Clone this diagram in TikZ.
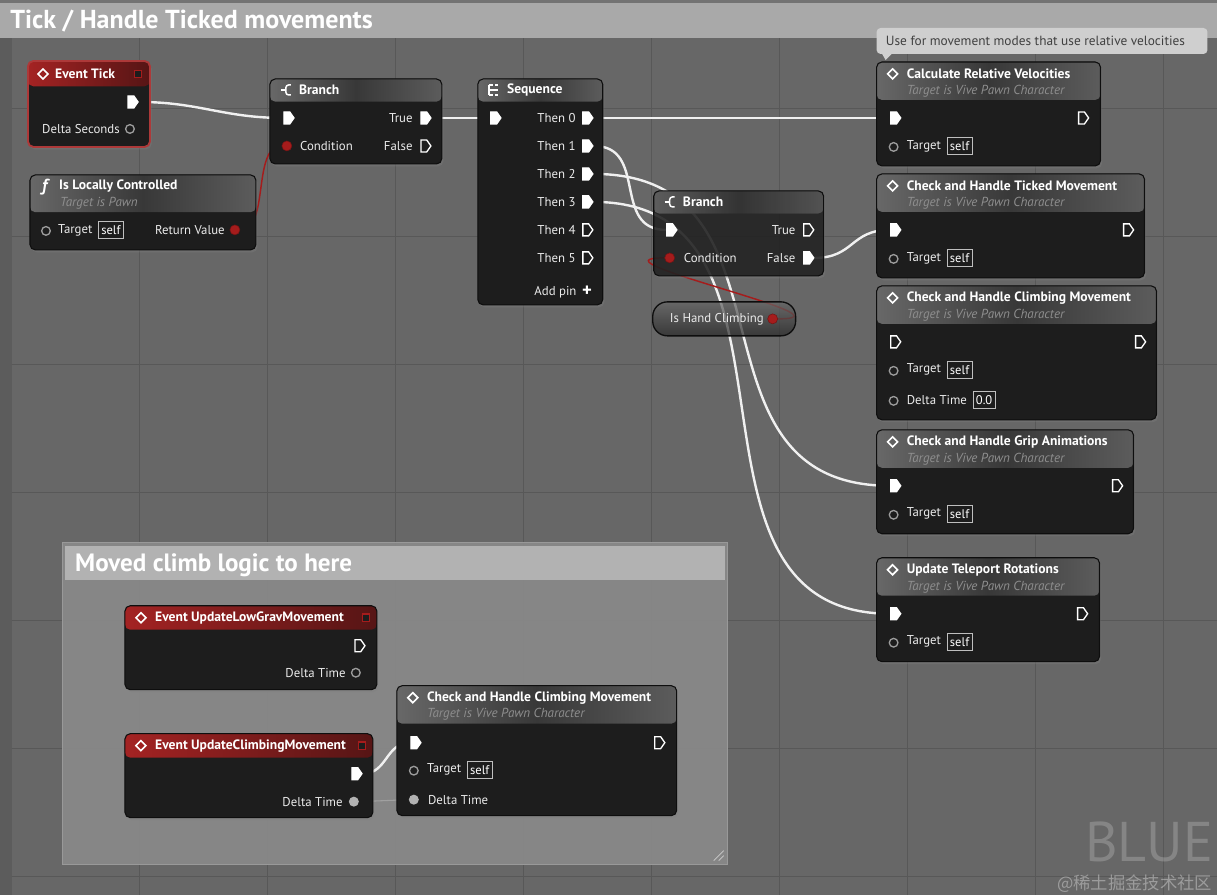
\documentclass[tikz,border=0pt]{standalone}
\usepackage{fontspec}
\setmainfont{PT Sans}
\newfontfamily\cjk{Noto Sans CJK SC}
\usetikzlibrary{shapes.geometric,shapes.symbols,positioning,shadows}
\definecolor{canvas}{HTML}{676767}
\definecolor{strip}{HTML}{5C5C5C}
\definecolor{gridline}{HTML}{585858}
\definecolor{chead}{HTML}{A9A9A9}
\definecolor{cbody}{HTML}{8A8A8A}
\definecolor{cbar}{HTML}{B2B2B2}
\definecolor{nodebg}{HTML}{1D1D1D}
\definecolor{nodeedge}{HTML}{0E0E0E}
\definecolor{hgrayA}{HTML}{686868}
\definecolor{hgrayB}{HTML}{383838}
\definecolor{hgrayC}{HTML}{5C5C5C}
\definecolor{hredA}{HTML}{A42323}
\definecolor{hredB}{HTML}{561515}
\definecolor{pinred}{HTML}{A51C1C}
\definecolor{pingray}{HTML}{9C9C9C}
\definecolor{subtxt}{HTML}{8E8E8E}
\definecolor{bubble}{HTML}{CFCFCF}
\definecolor{wire}{HTML}{F0F0F0}
\pgfdeclarelayer{back}
\pgfdeclarelayer{wires}
\pgfsetlayers{back,wires,main}
\begin{document}
\begin{tikzpicture}[x=0.75pt,y=-0.75pt,
  bpbody/.style={fill=nodebg, draw=nodeedge, line width=.8pt, rounded corners=4pt, drop shadow={opacity=.35,shadow xshift=1.2pt,shadow yshift=-1.8pt}},
  head/.style 2 args={path picture={\fill[#1] (path picture bounding box.north west) rectangle ([yshift=-#2]path picture bounding box.north east);}},
  grayhead/.style={left color=hgrayA, right color=hgrayC, middle color=hgrayB},
  redhead/.style={left color=hredA, right color=hredB},
  pill/.style={top color=hgrayA, bottom color=hgrayB!70!black, draw=nodeedge, line width=1pt, rounded corners=11pt},
  ttl/.style={font=\bfseries\fontsize{10.2}{12}\selectfont, text=white, inner sep=0pt, anchor=west},
  sub/.style={font=\itshape\fontsize{9.8}{11}\selectfont, text=subtxt, inner sep=0pt, anchor=west},
  lbl/.style={font=\fontsize{9.6}{11}\selectfont, text=white!92!black, inner sep=0pt, anchor=west},
  valbox/.style={font=\fontsize{9.4}{11}\selectfont, text=white, draw=white!75!black, line width=.6pt, inner sep=2.2pt, minimum height=12.5pt},
  xpin/.style={shape=signal, signal to=east, signal pointer angle=110, draw=white, line width=1pt, minimum width=7.5pt, minimum height=9pt, inner sep=0pt},
  dpin/.style={circle, draw=pingray, line width=1pt, minimum size=6.5pt, inner sep=0pt},
  rpin/.style={circle, fill=pinred, draw=pinred!70!black, minimum size=7.5pt, inner sep=0pt},
  gpin/.style={circle, fill=white!70!black, minimum size=7.5pt, inner sep=0pt},
  evpin/.style={rectangle, fill=nodebg, draw=pinred, line width=1pt, minimum size=5.5pt, inner sep=0pt},
  icon/.style={diamond, draw=white, line width=1.2pt, minimum size=8pt, inner sep=0pt},
  icn/.style={draw=white, line width=1.1pt},
  wireline/.style={draw=wire, line width=1.8pt},
  redwire/.style={draw=pinred, line width=1.1pt}]

\begin{pgfonlayer}{back}
\fill[canvas] (0,0) rectangle (1218,895);
\fill[strip] (0,38) rectangle (12,895);
\foreach \x in {140,268,...,1164} \draw[gridline, line width=.8pt] (\x,38) -- (\x,895);
\foreach \y in {109,237,...,878} \draw[gridline, line width=.8pt] (12,\y) -- (1218,\y);
\fill[chead] (0,3) rectangle (1218,38);
\fill[black!55] (0,0) rectangle (1218,3);
\fill[cbody, fill opacity=.9, draw=white!60!black] (62,543) rectangle (728,865);
\fill[cbar] (65,546) rectangle (725,580);
\draw[white!80!black, line width=.6pt] (714,861) -- (724,851) (719,861) -- (724,856);
\end{pgfonlayer}

% comment titles
\node[font=\bfseries\fontsize{19.5}{22}\selectfont, text=white, anchor=west, inner sep=0pt] (cm-tick) at (10,21) {Tick / Handle Ticked movements};
\node[font=\bfseries\fontsize{18.8}{21}\selectfont, text=white, anchor=west, inner sep=0pt] (cm-climb) at (75,565) {Moved climb logic to here};

% event tick
\draw[bpbody, draw=hredA!90!white, line width=1.4pt, head={redhead}{19pt}] (28,61) rectangle (150,147);
\node[icon] (tick-i) at (43,74) {};
\node[ttl] (tick-t) at (55,74) {Event Tick};
\node[evpin] (tick-d) at (138,74) {};
\node[xpin, fill=white] (tick-x) at (131,102) {};
\node[lbl, anchor=east] (tick-dl) at (120,129) {Delta Seconds};
\node[dpin] (tick-ds) at (130,129) {};

% is locally controlled
\draw[bpbody, head={grayhead}{28pt}] (30,175) rectangle (256,250);
\node[ttl, font=\bfseries\itshape\fontsize{13}{13}\selectfont] (ilc-f) at (42,187) {f};
\node[ttl] (ilc-t) at (59,186) {Is Locally Controlled};
\node[sub] (ilc-s) at (60,203) {Target is Pawn};
\node[dpin] (ilc-tp) at (46,231) {};
\node[lbl] (ilc-tg) at (58,230) {Target};
\node[valbox, right=4pt of ilc-tg] (ilc-self) {self};
\node[lbl, anchor=east] (ilc-rl) at (225,230) {Return Value};
\node[rpin] (ilc-rv) at (235,230) {};

% branch 1
\draw[bpbody, head={grayhead}{17pt}] (270,79) rectangle (442,164);
\draw[icn, rounded corners=2pt] (291,85) -- (286,85) -- (286,95) -- (291,95);
\draw[icn] (281,90) -- (286,90);
\node[ttl] (br1-t) at (299,90) {Branch};
\node[xpin, fill=white] (br1-in) at (287,118) {};
\node[lbl, anchor=east] (br1-tl) at (413,118) {True};
\node[xpin, fill=white] (br1-true) at (424,118) {};
\node[rpin] (br1-cond) at (287,146) {};
\node[lbl] (br1-cl) at (300,146) {Condition};
\node[lbl, anchor=east] (br1-fl) at (413,146) {False};
\node[xpin] (br1-false) at (424,146) {};

% sequence
\draw[bpbody, head={grayhead}{17pt}] (478,79) rectangle (603,305);
\draw[icn] (489,85) -- (489,95) (489,85) -- (493,85) (489,90) -- (498,90) (489,95) -- (493,95) (495,85) -- (498,85) (495,95) -- (498,95);
\node[ttl] (seq-t) at (507,90) {Sequence};
\node[xpin, fill=white] (seq-in) at (494,118) {};
\foreach \i/\y/\f in {0/118/white,1/146/white,2/174/white,3/202/white,4/230/none,5/258/none}{
  \node[lbl, anchor=east] (seq-l\i) at (576,\y) {Then \i};
  \node[xpin, fill=\f] (seq-t\i) at (586,\y) {};
}
\node[lbl, anchor=east] (seq-al) at (577,292) {Add pin};
\node[ttl, font=\bfseries\fontsize{14}{14}\selectfont] (seq-add) at (582,291) {+};

% branch 2
\draw[bpbody, fill opacity=.85, head={grayhead}{17pt}] (654,191) rectangle (824,276);
\draw[icn, rounded corners=2pt] (675,197) -- (670,197) -- (670,207) -- (675,207);
\draw[icn] (665,202) -- (670,202);
\node[ttl] (br2-t) at (683,202) {Branch};
\node[xpin, fill=white] (br2-in) at (670,230) {};
\node[lbl, anchor=east] (br2-tl) at (796,230) {True};
\node[xpin] (br2-true) at (807,230) {};
\node[rpin] (br2-cond) at (670,258) {};
\node[lbl] (br2-cl) at (684,258) {Condition};
\node[lbl, anchor=east] (br2-fl) at (796,258) {False};
\node[xpin, fill=white] (br2-false) at (807,258) {};

% is hand climbing
\draw[pill, fill opacity=.72] (653,302) rectangle (796,336);
\node[lbl] (ihc-t) at (670,319) {Is Hand Climbing};
\node[rpin] (ihc-rv) at (773,319) {};

% comment bubble
\fill[bubble, rounded corners=3pt] (877,28) rectangle (1208,54);
\fill[bubble] (882,53) -- (893,53) -- (886,60) -- cycle;
\node[lbl, text=black!75, font=\fontsize{10}{12}\selectfont] (bub-t) at (886,41) {Use for movement modes that use relative velocities};

% calculate relative velocities
\draw[bpbody, head={grayhead}{28.5pt}] (877,62) rectangle (1101,166);
\node[icon] (crv-i) at (893,74) {};
\node[ttl] (crv-t) at (907,74) {Calculate Relative Velocities};
\node[sub] (crv-s) at (907,91) {Target is Vive Pawn Character};
\node[xpin, fill=white] (crv-in) at (894,118) {};
\node[xpin] (crv-out) at (1082,118) {};
\node[dpin] (crv-tp) at (894,147) {};
\node[lbl] (crv-tg) at (907,146) {Target};
\node[valbox, right=4pt of crv-tg] (crv-self) {self};

% check and handle ticked movement
\draw[bpbody, head={grayhead}{28.5pt}] (877,174) rectangle (1145,278);
\node[icon] (ctm-i) at (893,186) {};
\node[ttl] (ctm-t) at (907,186) {Check and Handle Ticked Movement};
\node[sub] (ctm-s) at (907,203) {Target is Vive Pawn Character};
\node[xpin, fill=white] (ctm-in) at (894,230) {};
\node[xpin] (ctm-out) at (1127,230) {};
\node[dpin] (ctm-tp) at (894,259) {};
\node[lbl] (ctm-tg) at (907,258) {Target};
\node[valbox, right=4pt of ctm-tg] (ctm-self) {self};

% check and handle climbing movement
\draw[bpbody, head={grayhead}{28.5pt}] (877,286) rectangle (1157,420);
\node[icon] (chc-i) at (893,298) {};
\node[ttl] (chc-t) at (907,298) {Check and Handle Climbing Movement};
\node[sub] (chc-s) at (907,315) {Target is Vive Pawn Character};
\node[xpin] (chc-in) at (894,342) {};
\node[xpin] (chc-out) at (1139,342) {};
\node[dpin] (chc-tp) at (894,371) {};
\node[lbl] (chc-tg) at (907,370) {Target};
\node[valbox, right=4pt of chc-tg] (chc-self) {self};
\node[dpin] (chc-dp) at (894,401) {};
\node[lbl] (chc-dl) at (907,400) {Delta Time};
\node[valbox, right=4pt of chc-dl] (chc-dv) {0.0};

% check and handle grip animations
\draw[bpbody, head={grayhead}{28.5pt}] (877,430) rectangle (1134,534);
\node[icon] (cga-i) at (893,442) {};
\node[ttl] (cga-t) at (907,442) {Check and Handle Grip Animations};
\node[sub] (cga-s) at (907,459) {Target is Vive Pawn Character};
\node[xpin, fill=white] (cga-in) at (894,486) {};
\node[xpin] (cga-out) at (1116,486) {};
\node[dpin] (cga-tp) at (894,515) {};
\node[lbl] (cga-tg) at (907,514) {Target};
\node[valbox, right=4pt of cga-tg] (cga-self) {self};

% update teleport rotations
\draw[bpbody, head={grayhead}{28.5pt}] (877,558) rectangle (1100,662);
\node[icon] (utr-i) at (893,570) {};
\node[ttl] (utr-t) at (907,570) {Update Teleport Rotations};
\node[sub] (utr-s) at (907,587) {Target is Vive Pawn Character};
\node[xpin, fill=white] (utr-in) at (894,614) {};
\node[xpin] (utr-out) at (1081,614) {};
\node[dpin] (utr-tp) at (894,643) {};
\node[lbl] (utr-tg) at (907,642) {Target};
\node[valbox, right=4pt of utr-tg] (utr-self) {self};

% event update low grav movement
\draw[bpbody, head={redhead}{18pt}] (125,606) rectangle (377,690);
\node[icon] (elg-i) at (141,618) {};
\node[ttl] (elg-t) at (155,618) {Event UpdateLowGravMovement};
\node[evpin] (elg-d) at (366,618) {};
\node[xpin] (elg-x) at (358,646) {};
\node[lbl, anchor=east] (elg-dl) at (346,673) {Delta Time};
\node[dpin] (elg-dt) at (356,673) {};

% event update climbing movement
\draw[bpbody, head={redhead}{18pt}] (125,734) rectangle (373,818);
\node[icon] (ecm-i) at (141,746) {};
\node[ttl] (ecm-t) at (155,746) {Event UpdateClimbingMovement};
\node[evpin] (ecm-d) at (362,746) {};
\node[xpin, fill=white] (ecm-x) at (355,774) {};
\node[lbl, anchor=east] (ecm-dl) at (343,802) {Delta Time};
\node[gpin] (ecm-dt) at (354,802) {};

% check and handle climbing movement (lower)
\draw[bpbody, head={grayhead}{28.5pt}] (397,686) rectangle (677,816);
\node[icon] (cc2-i) at (413,698) {};
\node[ttl] (cc2-t) at (427,698) {Check and Handle Climbing Movement};
\node[sub] (cc2-s) at (427,715) {Target is Vive Pawn Character};
\node[xpin, fill=white] (cc2-in) at (414,743) {};
\node[xpin] (cc2-out) at (658,743) {};
\node[dpin] (cc2-tp) at (414,771) {};
\node[lbl] (cc2-tg) at (427,770) {Target};
\node[valbox, right=4pt of cc2-tg] (cc2-self) {self};
\node[gpin] (cc2-dt) at (414,800) {};
\node[lbl] (cc2-dl) at (428,800) {Delta Time};

% watermark
\node[font=\fontsize{42}{42}\selectfont, text=white, opacity=.2, anchor=east, inner sep=0pt] (wm-blue) at (1214,842) {BLUE};
\node[font=\cjk\fontsize{13}{13}\selectfont, text=white, opacity=.35, anchor=east, inner sep=0pt] (wm-site) at (1213,884) {@稀土掘金技术社区};

% wires
\begin{pgfonlayer}{wires}
\draw[wireline] (tick-x.east) .. controls +(60,0) and +(-60,0) .. (br1-in.west);
\draw[redwire] (ilc-rv.east) .. controls +(30,0) and +(-30,0) .. (br1-cond.west);
\draw[wireline] (br1-true.east) -- (seq-in.west);
\draw[wireline] (seq-t0.east) -- (crv-in.west);
\draw[wireline] (seq-t1.east) .. controls +(55,0) and +(-55,0) .. (br2-in.west);
\draw[wireline] (seq-t2.east) .. controls +(215,0) and +(-215,0) .. (cga-in.west);
\draw[wireline] (seq-t3.east) .. controls +(235,0) and +(-235,0) .. (utr-in.west);
\draw[wireline] (br2-false.east) .. controls +(40,0) and +(-40,0) .. (ctm-in.west);
\draw[redwire] (ihc-rv.east) .. controls +(85,0) and +(-85,0) .. (br2-cond.west);
\draw[wireline] (ecm-x.east) .. controls +(25,0) and +(-25,0) .. (cc2-in.west);
\draw[white!70!black, line width=.8pt, opacity=.6] (ecm-dt.east) -- (cc2-dt.west);
\end{pgfonlayer}
\end{tikzpicture}
\end{document}
